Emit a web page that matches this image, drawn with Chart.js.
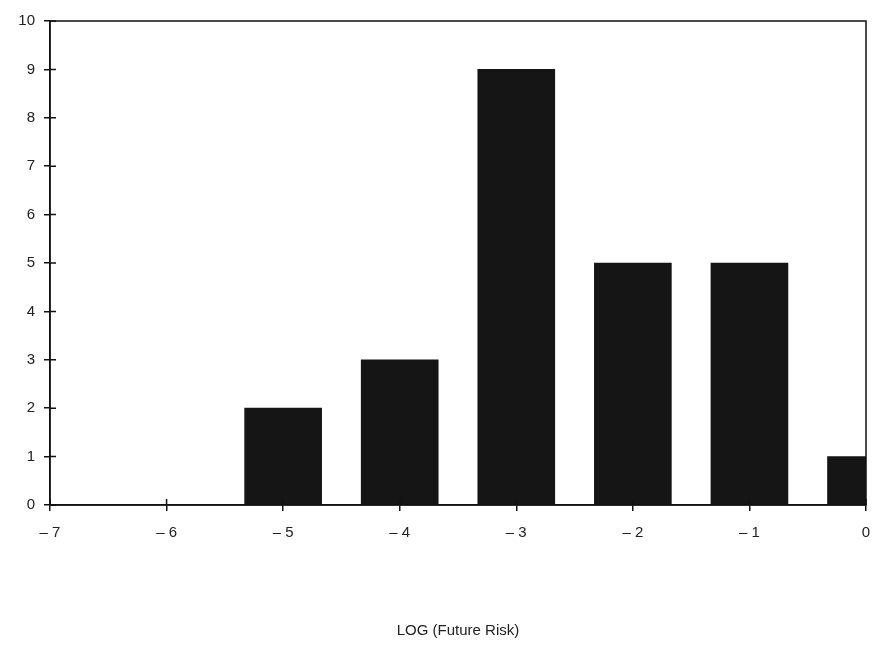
<!DOCTYPE html>
<html>
<head>
<meta charset="utf-8">
<script src="https://cdn.jsdelivr.net/npm/chart.js@4/dist/chart.umd.min.js"></script>
<style>
	body { margin: 0; background: #fff; }
</style>
</head>
<body>
<canvas id="risk_chart" width="881" height="663"></canvas>
<script>
const logRisk = [-5, -4, -3, -2, -1, 0];
const counts = [2, 3, 9, 5, 5, 1];
const xTicks = [-7, -6, -5, -4, -3, -2, -1, 0];
const yTicks = [0, 1, 2, 3, 4, 5, 6, 7, 8, 9, 10];
const xTitle = "LOG (Future Risk)";

const ink = "#111";
const tickFont = {family: "Liberation Sans", size: 15};

// frame round the plot plus the inner half of each tick
const framePlugin = {
	id: "frame",
	afterDatasetsDraw: function(chart) {
		const ctx = chart.ctx;
		const area = chart.chartArea;
		ctx.save();
		ctx.strokeStyle = ink;
		ctx.lineWidth = 1.5;
		ctx.strokeRect(area.left, area.top, area.right - area.left, area.bottom - area.top);
		ctx.beginPath();
		yTicks.forEach(function(v) {
			const y = chart.scales.y.getPixelForValue(v);
			ctx.moveTo(area.left, y);
			ctx.lineTo(area.left + 6, y);
		});
		xTicks.forEach(function(v) {
			const x = chart.scales.x.getPixelForValue(v);
			ctx.moveTo(x, area.bottom);
			ctx.lineTo(x, area.bottom - 6);
		});
		ctx.stroke();
		ctx.restore();
	}
};

new Chart(document.getElementById("risk_chart"), {
	type: "bar",
	data: {
		datasets: [{
			data: logRisk.map(function(x, i) { return {x: x, y: counts[i]}; }),
			backgroundColor: "#151515",
			borderWidth: 0,
			barThickness: 77,
		}]
	},
	options: {
		responsive: false,
		animation: false,
		layout: {padding: {top: 21, right: 15, left: 0, bottom: 0}},
		plugins: {legend: {display: false}, tooltip: {enabled: false}},
		scales: {
			x: {
				type: "linear",
				min: -7,
				max: 0,
				offset: false,
				grid: {drawOnChartArea: false, offset: false, tickLength: 6, color: ink, lineWidth: 1.5},
				border: {color: ink, width: 1.5},
				ticks: {
					stepSize: 1,
					color: "#222",
					font: tickFont,
					padding: 13,
					callback: function(v) { return v < 0 ? "\u2013 " + Math.abs(v) : String(v); }
				},
				title: {display: true, text: xTitle, color: "#222", font: tickFont, padding: {bottom: 23}},
				afterFit: function(scale) {
					scale.height = 158;
					scale.paddingRight = 0;
				}
			},
			y: {
				min: 0,
				max: 10,
				grid: {drawOnChartArea: false, tickLength: 6, color: ink, lineWidth: 1.5},
				border: {color: ink, width: 1.5},
				ticks: {stepSize: 1, color: "#222", font: tickFont, padding: 9},
				afterFit: function(scale) { scale.width = 50; }
			}
		}
	},
	plugins: [framePlugin]
});
</script>
</body>
</html>
